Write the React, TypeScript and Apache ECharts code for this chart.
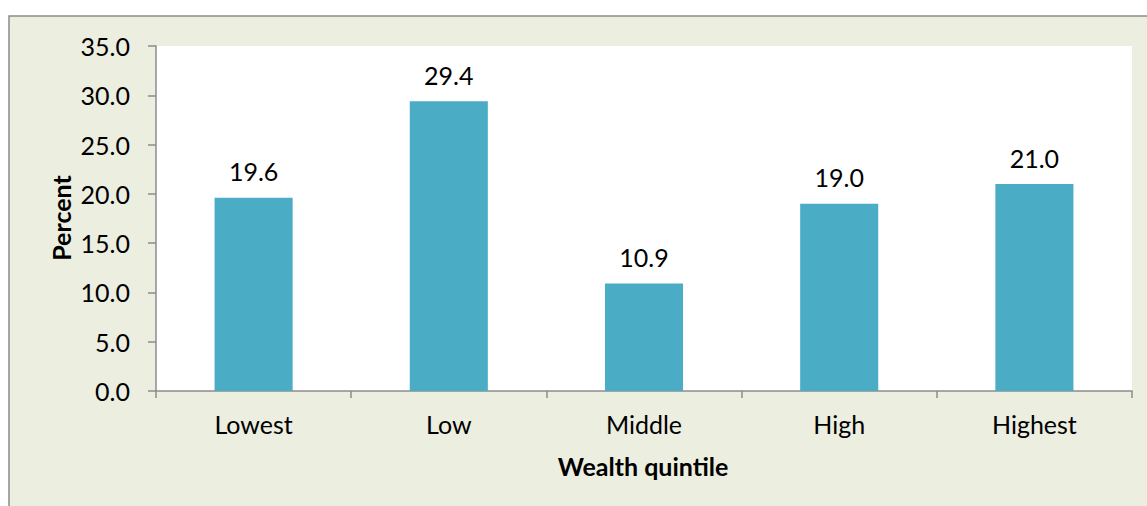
import React, { useEffect, useRef } from "react";
import * as echarts from "echarts";

const categories = ["Lowest", "Low", "Middle", "High", "Highest"];
const values = [19.6, 29.4, 10.9, 19.0, 21.0];
const yTicks = { min: 0, max: 35, interval: 5 };
const yTitle = "Percent";
const xTitle = "Wealth quintile";

export default function App() {
  const ref = useRef<HTMLDivElement>(null);
  useEffect(() => {
    if (!ref.current) return;
    const chart = echarts.init(ref.current, null, { renderer: "svg" });
    const font = "Lato, 'Open Sans', sans-serif";
    chart.setOption({
      animation: false,
      backgroundColor: "#ffffff",
      textStyle: { fontFamily: font },
      graphic: [
        {
          type: "rect",
          z: -10,
          silent: true,
          shape: { x: 9, y: 16, width: 1300, height: 700 },
          style: { fill: "#ECEEE0", stroke: "#8C8C8C", lineWidth: 1.5 },
        },
        {
          type: "text",
          x: 61,
          y: 218,
          rotation: Math.PI / 2,
          style: {
            text: yTitle,
            font: `bold 25px ${font}`,
            fill: "#000",
            align: "center",
            verticalAlign: "middle",
          },
        },
        {
          type: "text",
          x: 643,
          y: 466,
          style: {
            text: xTitle,
            font: `bold 25px ${font}`,
            fill: "#000",
            align: "center",
            verticalAlign: "middle",
          },
        },
      ],
      grid: {
        left: 156,
        right: 15,
        top: 46,
        bottom: 115,
        show: true,
        backgroundColor: "#ffffff",
        borderWidth: 0,
        containLabel: false,
      },
      xAxis: {
        type: "category",
        data: categories,
        boundaryGap: true,
        axisLine: { show: true, lineStyle: { color: "#8C8C8C", width: 1.5 } },
        axisTick: { show: true, length: 7, inside: false, lineStyle: { color: "#8C8C8C", width: 1.5 } },
        axisLabel: { color: "#000", fontSize: 25, fontFamily: font, margin: 20 },
        splitLine: { show: false },
      },
      yAxis: {
        type: "value",
        min: yTicks.min,
        max: yTicks.max,
        interval: yTicks.interval,
        axisLine: { show: true, lineStyle: { color: "#8C8C8C", width: 1.5 } },
        axisTick: { show: true, length: 8, inside: false, lineStyle: { color: "#8C8C8C", width: 1.5 } },
        axisLabel: {
          color: "#000",
          fontSize: 25,
          fontFamily: font,
          margin: 26,
          formatter: (v: number) => v.toFixed(1),
        },
        splitLine: { show: false },
      },
      series: [
        {
          type: "bar",
          data: values,
          barCategoryGap: "60%",
          itemStyle: { color: "#4BACC6" },
          label: {
            show: true,
            position: "top",
            distance: 14,
            color: "#000",
            fontSize: 25,
            fontFamily: font,
            formatter: (p: any) => Number(p.value).toFixed(1),
          },
        },
      ],
    });
    return () => chart.dispose();
  }, []);
  return (
    <div
      ref={ref}
      style={{ position: "fixed", left: 0, top: 0, width: 1147, height: 506 }}
    />
  );
}
